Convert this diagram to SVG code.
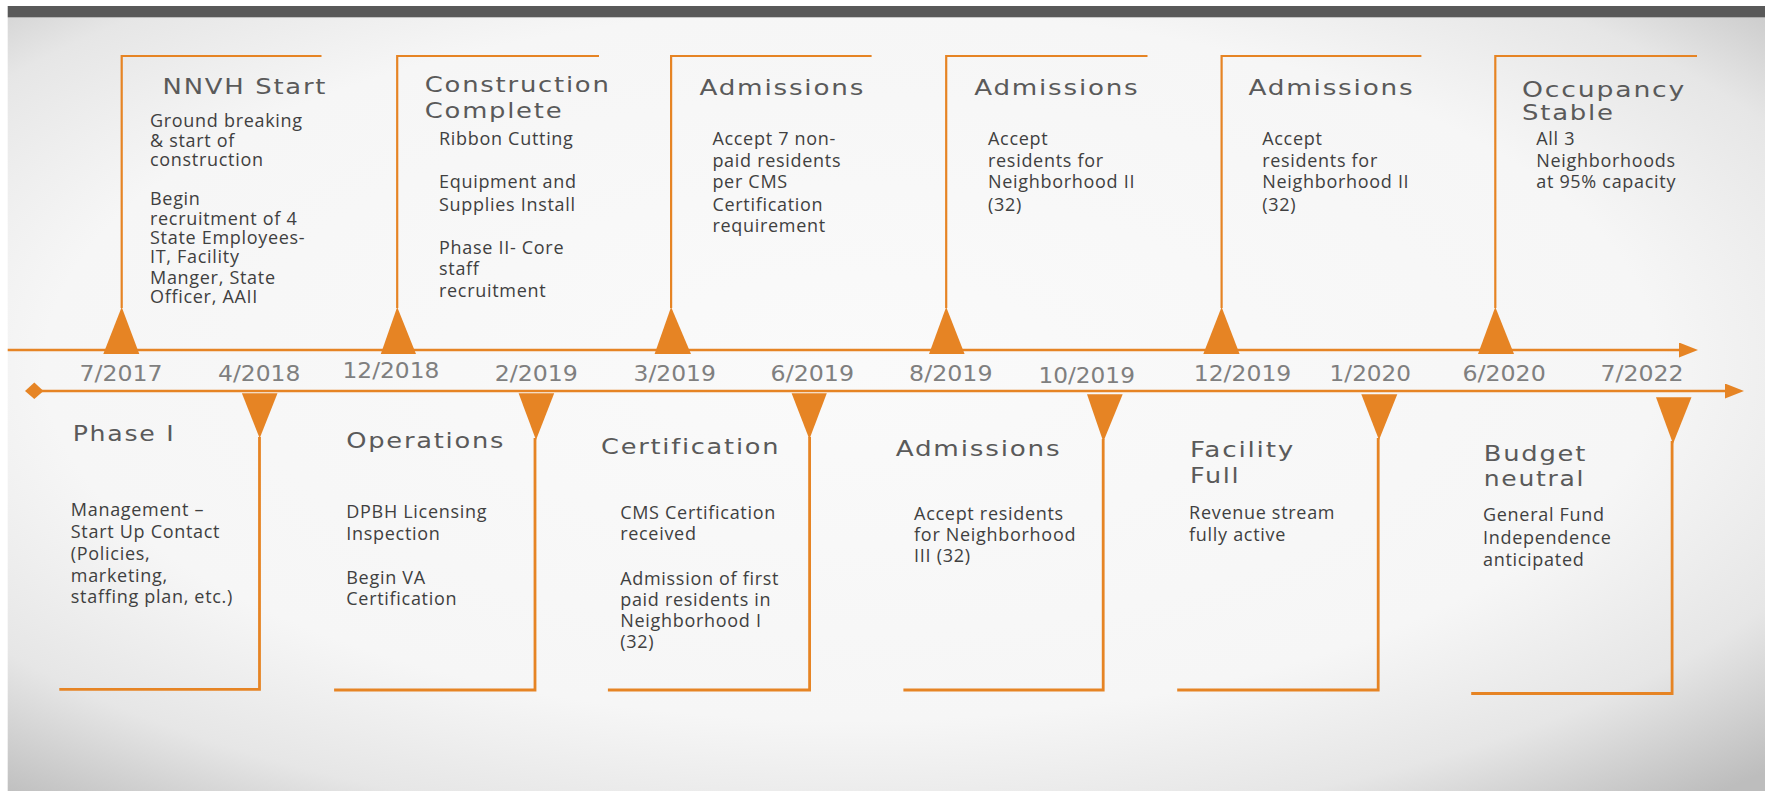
<svg xmlns="http://www.w3.org/2000/svg" width="1765" height="791" viewBox="0 0 1765 791">
<defs>
<radialGradient id="bg" cx="0.48" cy="0.45" r="0.74">
<stop offset="0" stop-color="#fafafa"/>
<stop offset="0.62" stop-color="#f6f6f6"/>
<stop offset="0.82" stop-color="#e6e6e6"/>
<stop offset="1" stop-color="#bdbdbd"/>
</radialGradient>
<marker id="arr" markerUnits="userSpaceOnUse" markerWidth="20" markerHeight="16" refX="0" refY="7.5" orient="auto">
<path d="M0,0 L19,7.5 L0,15 z" fill="#e68424"/>
</marker>
<style>
.ax{stroke:#e68424;stroke-width:2.6;fill:none}
.br{stroke:#e68424;stroke-width:2.2;fill:none}
.brl{stroke:#e68424;stroke-width:2.8;fill:none}
.tri{fill:#e68424}
.ttl{font-family:"DejaVu Sans","Liberation Sans",sans-serif;font-size:22px;letter-spacing:1.5px;fill:#5a5a5a}
.dt{font-family:"DejaVu Sans","Liberation Sans",sans-serif;font-size:21px;fill:#7f7f7f}
.bd{font-family:"Open Sans","Noto Sans",sans-serif;font-size:18px;letter-spacing:0.7px;fill:#404040}
</style>
</defs>
<rect x="0" y="0" width="1765" height="791" fill="#ffffff"/>
<rect x="7.7" y="17" width="1757.3" height="774" fill="url(#bg)"/>
<rect x="7.7" y="6" width="1757.3" height="11.3" fill="#595959"/>

<g id="connectors">
<line class="ax" x1="7.7" y1="350" x2="1679" y2="350" marker-end="url(#arr)"/>
<line class="ax" x1="34" y1="391" x2="1725" y2="391" marker-end="url(#arr)"/>
<polygon class="tri" points="25,391 34.3,382.5 43.5,391 34.3,399"/>
</g>

<g id="dates">
<text class="dt" x="79.6" y="381" textLength="83" lengthAdjust="spacingAndGlyphs">7/2017</text>
<text class="dt" x="218.1" y="381" textLength="82.3" lengthAdjust="spacingAndGlyphs">4/2018</text>
<text class="dt" x="342.5" y="377.7" textLength="96.8" lengthAdjust="spacingAndGlyphs">12/2018</text>
<text class="dt" x="494.8" y="381" textLength="83.1" lengthAdjust="spacingAndGlyphs">2/2019</text>
<text class="dt" x="633.6" y="381" textLength="82.3" lengthAdjust="spacingAndGlyphs">3/2019</text>
<text class="dt" x="770.6" y="381" textLength="83.4" lengthAdjust="spacingAndGlyphs">6/2019</text>
<text class="dt" x="909.1" y="381" textLength="83.4" lengthAdjust="spacingAndGlyphs">8/2019</text>
<text class="dt" x="1038.5" y="382.7" textLength="96.4" lengthAdjust="spacingAndGlyphs">10/2019</text>
<text class="dt" x="1193.7" y="381" textLength="97.6" lengthAdjust="spacingAndGlyphs">12/2019</text>
<text class="dt" x="1329.6" y="381" textLength="81.5" lengthAdjust="spacingAndGlyphs">1/2020</text>
<text class="dt" x="1462.4" y="381" textLength="83.4" lengthAdjust="spacingAndGlyphs">6/2020</text>
<text class="dt" x="1600.5" y="381" textLength="83.1" lengthAdjust="spacingAndGlyphs">7/2022</text>
</g>

<g id="nnvh-start">
<polyline class="br" points="321.5,56 121.7,56 121.7,308"/>
<polygon class="tri" points="103.3,354 139.3,354 121.7,307"/>
<text class="ttl" x="162.6" y="94.3" textLength="164.6" lengthAdjust="spacingAndGlyphs">NNVH Start</text>
<text class="bd" x="150" y="127.3">Ground breaking</text>
<text class="bd" x="150" y="147">&amp; start of</text>
<text class="bd" x="150" y="166">construction</text>
<text class="bd" x="150" y="205">Begin</text>
<text class="bd" x="150" y="225">recruitment of 4</text>
<text class="bd" x="150" y="244.3">State Employees-</text>
<text class="bd" x="150" y="263.3">IT, Facility</text>
<text class="bd" x="150" y="284.3">Manger, State</text>
<text class="bd" x="150" y="302.7">Officer, AAII</text>
</g>

<g id="construction-complete">
<polyline class="br" points="599,56 397.2,56 397.2,308"/>
<polygon class="tri" points="380.8,354 416,354 397.2,307"/>
<text class="ttl" x="424.8" y="92.3" textLength="185.8" lengthAdjust="spacingAndGlyphs">Construction</text>
<text class="ttl" x="424.8" y="118.3" textLength="138.5" lengthAdjust="spacingAndGlyphs">Complete</text>
<text class="bd" x="439" y="145">Ribbon Cutting</text>
<text class="bd" x="439" y="188.3">Equipment and</text>
<text class="bd" x="439" y="210.7">Supplies Install</text>
<text class="bd" x="439" y="254">Phase II- Core</text>
<text class="bd" x="439" y="275">staff</text>
<text class="bd" x="439" y="296.7">recruitment</text>
</g>

<g id="admissions-1">
<polyline class="br" points="871.6,56 671.1,56 671.1,308"/>
<polygon class="tri" points="654.6,354 691,354 671.1,307"/>
<text class="ttl" x="699.4" y="95" textLength="165.7" lengthAdjust="spacingAndGlyphs">Admissions</text>
<text class="bd" x="712.4" y="145">Accept 7 non-</text>
<text class="bd" x="712.4" y="166.7">paid residents</text>
<text class="bd" x="712.4" y="188.3">per CMS</text>
<text class="bd" x="712.4" y="210.7">Certification</text>
<text class="bd" x="712.4" y="232.3">requirement</text>
</g>

<g id="admissions-2">
<polyline class="br" points="1147.5,56 946.2,56 946.2,308"/>
<polygon class="tri" points="929,354 964.6,354 946.2,307"/>
<text class="ttl" x="974.2" y="95" textLength="165.3" lengthAdjust="spacingAndGlyphs">Admissions</text>
<text class="bd" x="988" y="145">Accept</text>
<text class="bd" x="988" y="166.7">residents for</text>
<text class="bd" x="988" y="188.3">Neighborhood  II</text>
<text class="bd" x="988" y="210.7">(32)</text>
</g>

<g id="admissions-3">
<polyline class="br" points="1421.4,56 1221.6,56 1221.6,308"/>
<polygon class="tri" points="1203.3,354 1239.6,354 1221.6,307"/>
<text class="ttl" x="1248.4" y="95" textLength="166.1" lengthAdjust="spacingAndGlyphs">Admissions</text>
<text class="bd" x="1262.2" y="145">Accept</text>
<text class="bd" x="1262.2" y="166.7">residents for</text>
<text class="bd" x="1262.2" y="188.3">Neighborhood  II</text>
<text class="bd" x="1262.2" y="210.7">(32)</text>
</g>

<g id="occupancy-stable">
<polyline class="br" points="1697,56 1495.3,56 1495.3,308"/>
<polygon class="tri" points="1478,354 1514,354 1495.3,307"/>
<text class="ttl" x="1522" y="96.5" textLength="164.2" lengthAdjust="spacingAndGlyphs">Occupancy</text>
<text class="ttl" x="1522" y="120" textLength="92.7" lengthAdjust="spacingAndGlyphs">Stable</text>
<text class="bd" x="1536.2" y="145">All 3</text>
<text class="bd" x="1536.2" y="166.7">Neighborhoods</text>
<text class="bd" x="1536.2" y="188.3">at 95% capacity</text>
</g>

<g id="phase-1">
<polygon class="tri" points="241.9,393.3 277.5,393.3 259.7,438.3"/>
<polyline class="brl" points="259.5,437 259.5,689.3 59.3,689.3"/>
<text class="ttl" x="72.7" y="441" textLength="102.6" lengthAdjust="spacingAndGlyphs">Phase I</text>
<text class="bd" x="70.8" y="516">Management –</text>
<text class="bd" x="70.8" y="538.3">Start Up Contact</text>
<text class="bd" x="70.8" y="560">(Policies,</text>
<text class="bd" x="70.8" y="581.7">marketing,</text>
<text class="bd" x="70.8" y="603.3">staffing plan, etc.)</text>
</g>

<g id="operations">
<polygon class="tri" points="518.6,393.3 554.2,393.3 536,440"/>
<polyline class="brl" points="535,438 535,690 334.1,690"/>
<text class="ttl" x="346.3" y="448" textLength="158.9" lengthAdjust="spacingAndGlyphs">Operations</text>
<text class="bd" x="346.3" y="518.3">DPBH Licensing</text>
<text class="bd" x="346.3" y="540">Inspection</text>
<text class="bd" x="346.3" y="584">Begin VA</text>
<text class="bd" x="346.3" y="605">Certification</text>
</g>

<g id="certification">
<polygon class="tri" points="791.6,393.3 826.8,393.3 809.4,439.3"/>
<polyline class="brl" points="809.6,437 809.6,690 607.9,690"/>
<text class="ttl" x="601" y="454" textLength="179.2" lengthAdjust="spacingAndGlyphs">Certification</text>
<text class="bd" x="620.2" y="519">CMS Certification</text>
<text class="bd" x="620.2" y="540">received</text>
<text class="bd" x="620.2" y="585">Admission of first</text>
<text class="bd" x="620.2" y="605.7">paid residents  in</text>
<text class="bd" x="620.2" y="627.3">Neighborhood  I</text>
<text class="bd" x="620.2" y="648.3">(32)</text>
</g>

<g id="admissions-4">
<polygon class="tri" points="1087,394.3 1122.7,394.3 1103.3,441.7"/>
<polyline class="brl" points="1103.2,439 1103.2,690 903.4,690"/>
<text class="ttl" x="895.7" y="456" textLength="165.7" lengthAdjust="spacingAndGlyphs">Admissions</text>
<text class="bd" x="914.1" y="520">Accept residents</text>
<text class="bd" x="914.1" y="541">for Neighborhood</text>
<text class="bd" x="914.1" y="562.3">III  (32)</text>
</g>

<g id="facility-full">
<polygon class="tri" points="1361.3,394.3 1397.3,394.3 1379,440"/>
<polyline class="brl" points="1378.2,438 1378.2,690 1177.2,690"/>
<text class="ttl" x="1189.9" y="457.3" textLength="105.2" lengthAdjust="spacingAndGlyphs">Facility</text>
<text class="ttl" x="1189.9" y="482.7" textLength="50.5" lengthAdjust="spacingAndGlyphs">Full</text>
<text class="bd" x="1189.1" y="519.3">Revenue stream</text>
<text class="bd" x="1189.1" y="541">fully active</text>
</g>

<g id="budget-neutral">
<polygon class="tri" points="1656,397.3 1691.5,397.3 1673,443.8"/>
<polyline class="brl" points="1672.1,441 1672.1,693.5 1471.2,693.5"/>
<text class="ttl" x="1483.8" y="460.7" textLength="103.3" lengthAdjust="spacingAndGlyphs">Budget</text>
<text class="ttl" x="1483.8" y="485.7" textLength="101.4" lengthAdjust="spacingAndGlyphs">neutral</text>
<text class="bd" x="1483" y="521">General Fund</text>
<text class="bd" x="1483" y="544">Independence</text>
<text class="bd" x="1483" y="565.7">anticipated</text>
</g>
</svg>
